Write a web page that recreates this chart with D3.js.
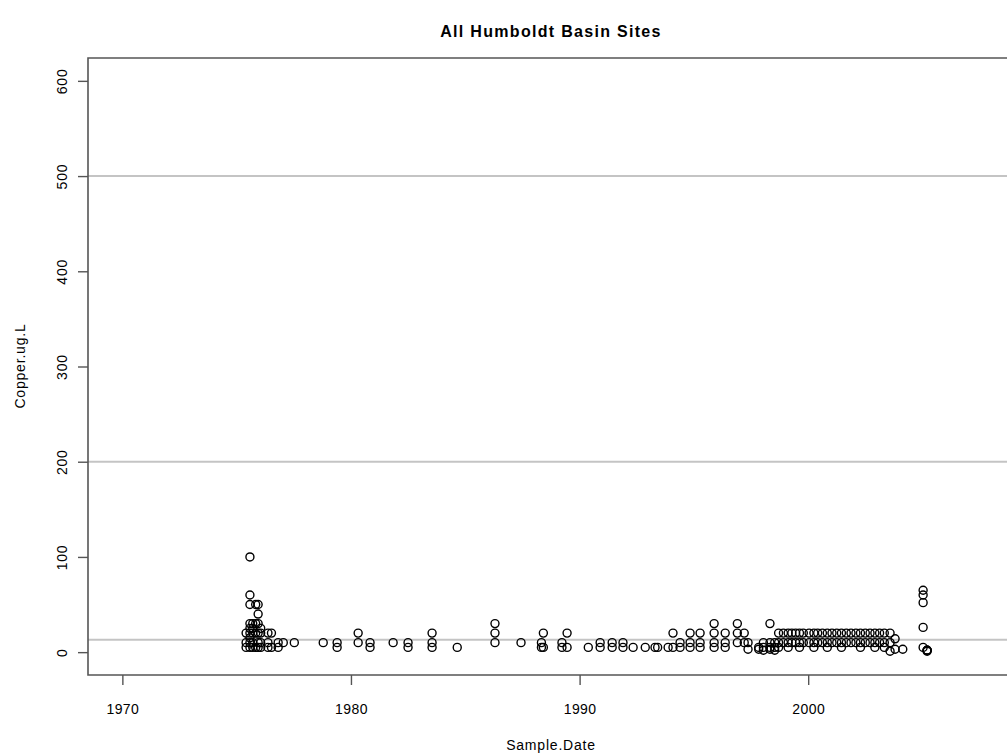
<!DOCTYPE html>
<html>
<head>
<meta charset="utf-8">
<script src="https://cdn.jsdelivr.net/npm/d3@7"></script>
<style>
html, body { margin: 0; background: #fff; overflow: hidden; }
svg { display: block; }
text { font-family: "Liberation Sans", Arial, sans-serif; fill: #000; }
</style>
</head>
<body>
<svg width="1007" height="756"></svg>
<script>
// sampling events and the copper readings (ug/L) taken on each
var sampleDates = [
  "1975-06-01","1975-08-01","1975-09-15","1975-11-01","1975-12-10","1976-01-20",
  "1976-05-15","1976-07-10","1976-10-25","1977-01-15","1977-07-10","1978-10-15",
  "1979-05-25","1980-04-25","1980-11-01","1981-11-05","1982-07-01","1983-07-20",
  "1984-08-25","1986-04-20","1987-06-10","1988-05-01","1988-06-01","1989-03-25",
  "1989-06-15","1990-05-20","1990-11-25","1991-06-05","1991-11-25","1992-05-05",
  "1992-11-15","1993-04-20","1993-06-01","1993-11-15","1994-02-01","1994-05-25",
  "1994-11-01","1995-04-10","1995-11-20","1996-05-15","1996-11-25","1997-03-15",
  "1997-05-15","1997-11-01","1998-01-15","1998-04-30","1998-07-15",
  "1998-09-15","1998-12-01","1999-02-15","1999-04-15","1999-06-15","1999-08-15",
  "1999-10-15","2000-01-15","2000-04-01","2000-06-01","2000-08-15","2000-11-01",
  "2001-01-15","2001-04-01","2001-06-15","2001-09-01","2001-11-15","2002-02-01",
  "2002-04-15","2002-07-01","2002-09-15","2002-12-01","2003-02-15","2003-05-01",
  "2003-08-01","2003-10-20","2004-02-20","2005-01-10","2005-03-15"
];
var copperReadings = [
  [5,10,20],[100,60,50,30,25,20,15,10,5],[30,25,20,10,5],[50,30,20,5],[50,40,30,20,10,5],[25,20,10,5],
  [20,10,5],[20,5],[10,5],[10],[10],[10],
  [10,5],[20,10],[10,5],[10],[10,5],[20,10,5],
  [5],[30,20,10],[10],[10,5],[20,5],[10,5],
  [20,5],[5],[5,10],[5,10],[5,10],[5],
  [5],[5],[5],[5],[20,5],[10,5],
  [20,10,5],[20,10,5],[30,20,10,5],[20,10,5],[30,20,10],[20,10],
  [3,10],[3,5],[2,5,10],[30,3,5,10],[2,5,10],
  [20,10,5],[20,10],[20,10,5],[20,10],[20,10],[20,10,5],
  [20,10],[20,10],[20,10,5],[20,10],[20,10],[20,10,5],
  [20,10],[20,10],[20,10,5],[20,10],[20,10],[20,10],
  [20,10,5],[20,10],[20,10],[20,10,5],[20,10],[20,10,5],
  [20,10,1],[14,3],[3],[65,60,52,26,5],[2,2,1,2]
];
var referenceLines = [500, 200, 13];
var yTicks = [0, 100, 200, 300, 400, 500, 600];
var xTickYears = [1970, 1980, 1990, 2000];

var svg = d3.select("svg");
var box = { left: 88, right: 1014, top: 58, bottom: 675 };

var parse = d3.timeParse("%Y-%m-%d");
var points = [];
sampleDates.forEach(function (d, i) {
  copperReadings[i].forEach(function (v) { points.push({ date: parse(d), copper: v }); });
});

// R style limits: xlim 1970-2007.5, ylim 0-600, each padded 4%
var xScale = d3.scaleTime()
  .domain([new Date(1968, 6, 1), new Date(2009, 0, 1)])
  .range([box.left, box.right]);
var yScale = d3.scaleLinear().domain([-24, 624]).range([box.bottom, box.top]);

svg.append("text").attr("x", 551).attr("y", 37).attr("text-anchor", "middle")
  .style("font-weight", "bold").style("font-size", "16px").style("letter-spacing", "1.3px")
  .text("All Humboldt Basin Sites");

var g = svg.append("g");
g.selectAll("line.ref").data(referenceLines).enter().append("line").attr("class", "ref")
  .attr("x1", box.left).attr("x2", 1007)
  .attr("y1", d => yScale(d)).attr("y2", d => yScale(d))
  .attr("stroke", "#c4c4c4").attr("stroke-width", 2);

g.selectAll("circle").data(points).enter().append("circle")
  .attr("cx", d => xScale(d.date)).attr("cy", d => yScale(d.copper)).attr("r", 4)
  .attr("fill", "none").attr("stroke", "#000").attr("stroke-width", 1.4);

// plot frame: the right side runs past the edge of the image
svg.append("path")
  .attr("d", `M1007,${box.top}H${box.left}V${box.bottom}H1007`)
  .attr("fill", "none").attr("stroke", "#555").attr("stroke-width", 1.6);

var xAxis = d3.axisBottom(xScale).tickValues(xTickYears.map(y => new Date(y, 0, 1)))
  .tickFormat(d3.timeFormat("%Y")).tickSize(10).tickSizeOuter(0).tickPadding(19);
var xAxisG = svg.append("g").attr("transform", `translate(0,${box.bottom})`).call(xAxis);
xAxisG.select(".domain").remove();
xAxisG.selectAll("line").attr("stroke", "#555").attr("stroke-width", 1.4);
xAxisG.selectAll("text").style("font-size", "14px").style("letter-spacing", "0.4px").attr("fill", "#000");

var yAxis = d3.axisLeft(yScale).tickValues(yTicks).tickSize(10).tickSizeOuter(0);
var yAxisG = svg.append("g").attr("transform", `translate(${box.left},0)`).call(yAxis);
yAxisG.select(".domain").remove();
yAxisG.selectAll("line").attr("stroke", "#555").attr("stroke-width", 1.4);
yAxisG.selectAll("text").style("font-size", "14px").style("letter-spacing", "0.8px").attr("fill", "#000")
  .attr("transform", "rotate(-90)").attr("text-anchor", "middle")
  .attr("x", 0).attr("y", -21).attr("dy", 0);

svg.append("text").attr("x", 551).attr("y", 750).attr("text-anchor", "middle")
  .style("font-size", "14px").style("letter-spacing", "0.8px").text("Sample.Date");
svg.append("text").attr("transform", "translate(25,366) rotate(-90)").attr("text-anchor", "middle")
  .style("font-size", "14px").style("letter-spacing", "0.8px").text("Copper.ug.L");
</script>
</body>
</html>
